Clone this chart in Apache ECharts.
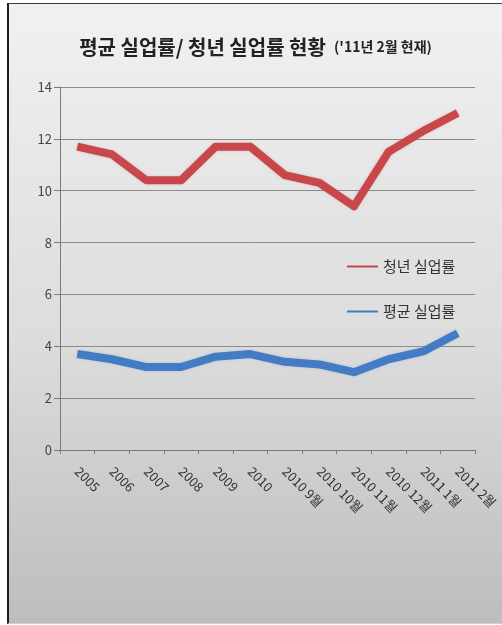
<!DOCTYPE html>
<html>
<head>
<meta charset="utf-8">
<script src="https://cdn.jsdelivr.net/npm/echarts@6/dist/echarts.min.js"></script>
<style>
  html, body { margin: 0; padding: 0; background: #fff; }
  .wrap {
    position: absolute;
    left: 7px;
    top: 3px;
    width: 495px;
    height: 619px;
    border-left: 2px solid #1e1e1e;
    border-top: 1px solid #3a3a3a;
    border-bottom: 1px solid #d0d0d0;
    background: linear-gradient(to bottom, #f1f1f1 0%, #dcdcdc 55%, #bdbdbd 100%);
  }
  .echart { width: 493px; height: 619px; }
</style>
</head>
<body>
<div class="wrap"><div class="echart" id="chart"></div></div>
<script>
// 데이터
var categories = ["2005", "2006", "2007", "2008", "2009", "2010",
  "2010 9월", "2010 10월", "2010 11월", "2010 12월", "2011 1월", "2011 2월"];
var youthRate = [11.7, 11.4, 10.4, 10.4, 11.7, 11.7, 10.6, 10.3, 9.4, 11.5, 12.3, 13.0];
var avgRate = [3.7, 3.5, 3.2, 3.2, 3.6, 3.7, 3.4, 3.3, 3.0, 3.5, 3.8, 4.5];
var yTicks = { min: 0, max: 14, interval: 2 };

var font = "'Noto Sans CJK KR', 'Noto Sans', sans-serif";

var myEcharts = echarts.init(document.getElementById("chart"));

var option = {
  backgroundColor: "transparent",
  textStyle: { fontFamily: font },
  title: {
    left: "center",
    top: 28,
    text: "{a|평균 실업률/ 청년 실업률 현황}  {b|('11년 2월 현재)}",
    textStyle: {
      rich: {
        a: { fontFamily: font, fontSize: 20, fontWeight: "bold", color: "#222" },
        b: { fontFamily: font, fontSize: 14, fontWeight: "bold", color: "#222" },
      },
    },
  },
  legend: {
    orient: "vertical",
    left: 333,
    top: 250,
    itemGap: 30,
    itemWidth: 31,
    itemHeight: 2,
    icon: "rect",
    lineStyle: { width: 2 },
    itemStyle: { borderWidth: 0 },
    data: ["청년 실업률", "평균 실업률"],
    textStyle: { fontFamily: font, fontSize: 15, color: "#333" },
  },
  grid: {
    left: 51,
    top: 83,
    right: 27,
    bottom: 173,
  },
  xAxis: {
    type: "category",
    data: categories,
    boundaryGap: true,
    axisLine: { lineStyle: { color: "#7a7a7a" } },
    axisTick: { show: true, length: 4, alignWithLabel: false, lineStyle: { color: "#7a7a7a" } },
    axisLabel: {
      rotate: -45,
      interval: 0,
      margin: 19,
      fontSize: 13,
      color: "#333",
      fontFamily: font,
    },
  },
  yAxis: {
    type: "value",
    min: yTicks.min,
    max: yTicks.max,
    interval: yTicks.interval,
    axisLine: { show: true, lineStyle: { color: "#7a7a7a" } },
    axisTick: { show: true, length: 6, lineStyle: { color: "#7a7a7a" } },
    splitLine: { lineStyle: { color: "#8c8c8c" } },
    axisLabel: { fontSize: 13, color: "#444", margin: 8, fontFamily: font },
  },
  series: [
    {
      name: "청년 실업률",
      type: "line",
      data: youthRate,
      symbol: "none",
      color: "#c8474a",
      lineStyle: {
        width: 8,
        color: "#c8474a",
        join: "round",
        shadowColor: "rgba(200,120,120,0.35)",
        shadowBlur: 3,
      },
    },
    {
      name: "평균 실업률",
      type: "line",
      data: avgRate,
      symbol: "none",
      color: "#437cc4",
      lineStyle: {
        width: 8,
        color: "#437cc4",
        join: "round",
        shadowColor: "rgba(120,150,200,0.35)",
        shadowBlur: 3,
      },
    },
  ],
};

myEcharts.setOption(option);
window.onresize = function () {
  myEcharts.resize();
};
</script>
</body>
</html>
